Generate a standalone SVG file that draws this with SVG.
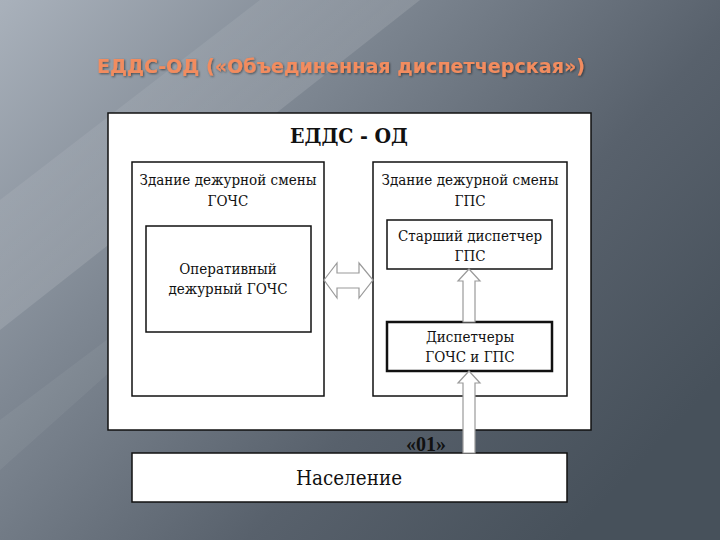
<svg xmlns="http://www.w3.org/2000/svg" width="720" height="540" viewBox="0 0 720 540">
<defs>
<linearGradient id="bg" x1="0" y1="0" x2="1" y2="0.7">
<stop offset="0" stop-color="#a9b1bb"/>
<stop offset="0.35" stop-color="#7f8893"/>
<stop offset="0.7" stop-color="#58616c"/>
<stop offset="1" stop-color="#47515b"/>
</linearGradient>
<linearGradient id="streak" x1="0" y1="0" x2="1" y2="1">
<stop offset="0" stop-color="#ffffff" stop-opacity="0"/>
<stop offset="0.5" stop-color="#ffffff" stop-opacity="0.12"/>
<stop offset="1" stop-color="#ffffff" stop-opacity="0"/>
</linearGradient>
<filter id="sh" x="-5%" y="-20%" width="110%" height="150%">
<feDropShadow dx="1" dy="1" stdDeviation="0.8" flood-color="#000" flood-opacity="0.5"/>
</filter>
</defs>
<style>
.box{fill:#fff;stroke:#111;stroke-width:1.5}
.thick{fill:#fff;stroke:#111;stroke-width:2.5}
.t{font-family:"DejaVu Serif Condensed","DejaVu Serif",serif;font-size:15px;fill:#111;text-anchor:middle}
.arrow{fill:#fff;stroke:#9a9a9a;stroke-width:1.2}
</style>
<rect width="720" height="540" fill="url(#bg)"/>
<polygon points="0,200 260,0 420,0 0,330" fill="url(#streak)"/>
<polygon points="0,420 120,330 140,345 0,470" fill="#ffffff" opacity="0.05"/>

<text x="341" y="73" font-family="'DejaVu Sans Condensed','DejaVu Sans',sans-serif" font-weight="bold" font-size="19" fill="#f28c5e" text-anchor="middle" textLength="488" lengthAdjust="spacingAndGlyphs" filter="url(#sh)">ЕДДС-ОД («Объединенная диспетчерская»)</text>

<g id="outer">
<rect x="108" y="113" width="483" height="317" class="box" stroke-width="1.5"/>
<text x="349" y="143" font-family="'DejaVu Serif Condensed','DejaVu Serif',serif" font-weight="bold" font-size="21" fill="#111" text-anchor="middle" textLength="118" lengthAdjust="spacingAndGlyphs">ЕДДС - ОД</text>
</g>

<g id="left-building">
<rect x="132" y="162" width="192" height="234" class="box"/>
<text x="228" y="185" class="t" textLength="177" lengthAdjust="spacingAndGlyphs">Здание дежурной смены</text>
<text x="228" y="206" class="t">ГОЧС</text>
</g>

<g id="operator">
<rect x="146" y="226" width="165" height="106" class="box"/>
<text x="228" y="274" class="t">Оперативный</text>
<text x="228" y="294" class="t">дежурный ГОЧС</text>
</g>

<g id="right-building">
<rect x="373" y="162" width="194" height="234" class="box"/>
<text x="470" y="185" class="t" textLength="177" lengthAdjust="spacingAndGlyphs">Здание дежурной смены</text>
<text x="470" y="206" class="t">ГПС</text>
</g>

<g id="senior">
<rect x="387" y="220" width="165" height="49" class="box"/>
<text x="470" y="241" class="t">Старший диспетчер</text>
<text x="470" y="261" class="t">ГПС</text>
</g>

<g id="dispatchers">
<rect x="387" y="322" width="165" height="49" class="thick"/>
<text x="470" y="342" class="t">Диспетчеры</text>
<text x="470" y="362" class="t">ГОЧС и ГПС</text>
</g>

<g id="population">
<rect x="132" y="453" width="435" height="49" class="box"/>
<text x="349" y="485" font-family="'DejaVu Serif Condensed','DejaVu Serif',serif" font-size="20" fill="#111" text-anchor="middle" textLength="106" lengthAdjust="spacingAndGlyphs">Население</text>
</g>

<g id="connectors">
<polygon class="arrow" points="469,269 480,281 475,281 475,322 463,322 463,281 458,281"/>
<polygon class="arrow" points="324,280 337,263 337,273 359,273 359,263 373,280 359,298 359,288 337,288 337,298"/>
<polygon class="arrow" points="469,371 480,383 475,383 475,453 463,453 463,383 458,383"/>
<text x="426" y="451" font-family="'Liberation Serif','Times New Roman',serif" font-weight="bold" font-size="20" fill="#111" text-anchor="middle">«01»</text>
</g>
</svg>
